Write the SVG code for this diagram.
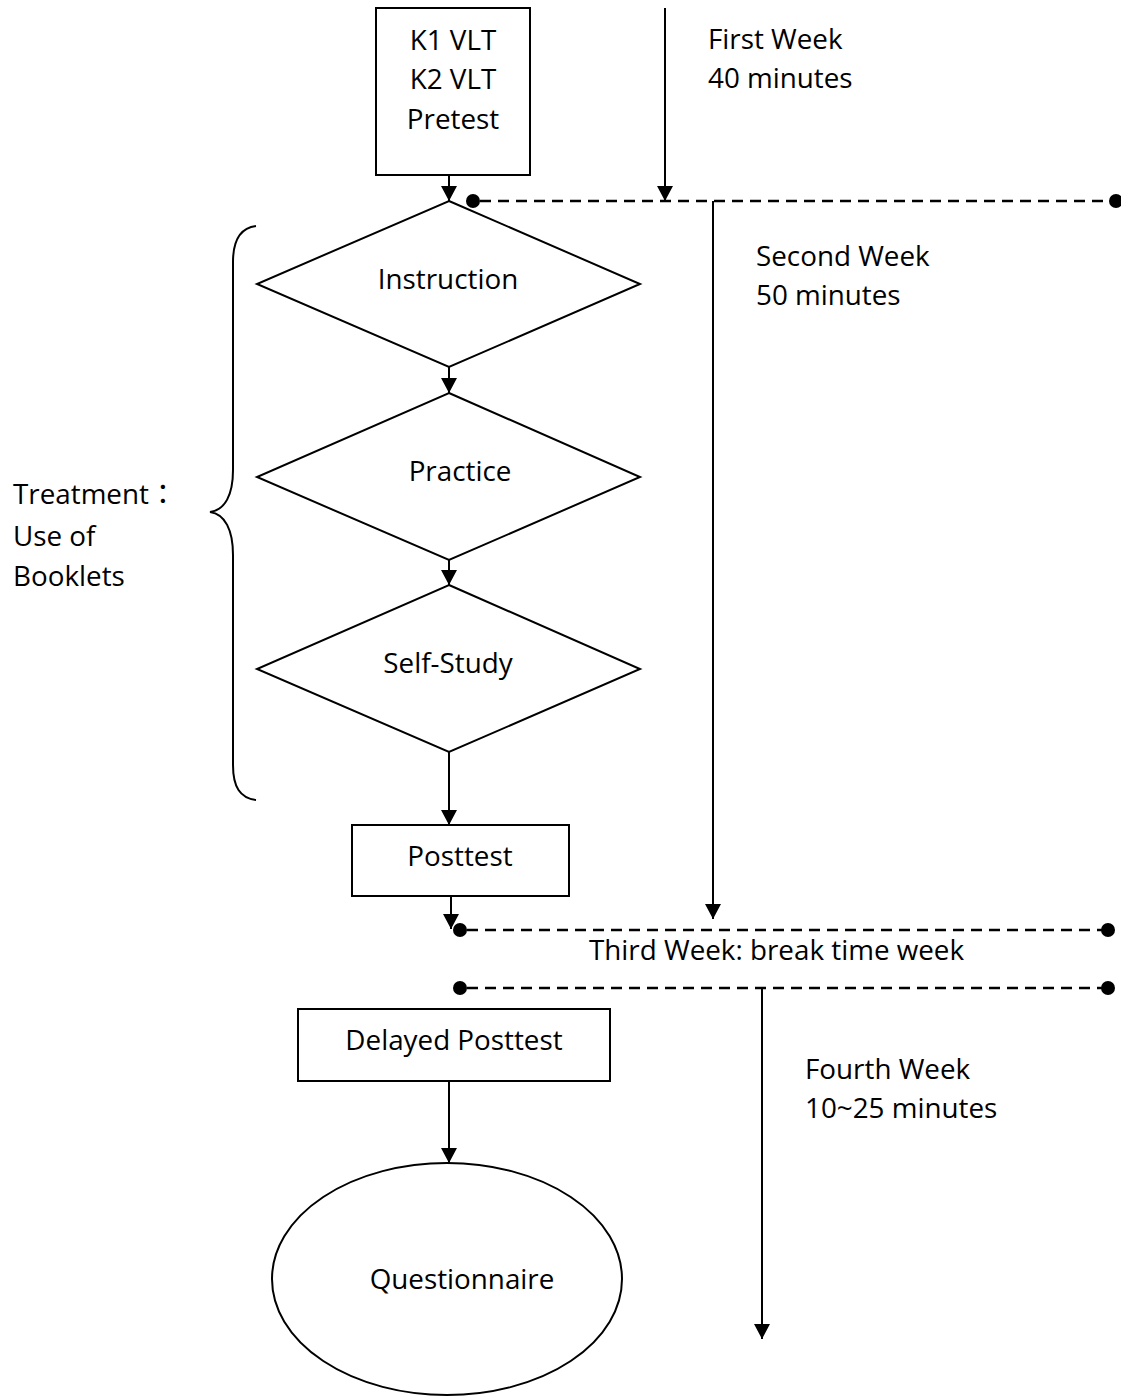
<svg xmlns="http://www.w3.org/2000/svg" width="1121" height="1396" viewBox="0 0 1121 1396">
<style>
.s{fill:none;stroke:#000;stroke-width:2}
.n{fill:#fff;stroke:#000;stroke-width:2}
.d{fill:none;stroke:#000;stroke-width:2.5;stroke-dasharray:11 7}
text{font-family:"Open Sans","Noto Sans CJK TC",sans-serif;font-size:27.8px;fill:#000}
.c{text-anchor:middle}
</style>
<defs>
<marker id="ah" markerWidth="15" markerHeight="16" refX="15" refY="8" orient="auto" markerUnits="userSpaceOnUse">
<path d="M0,0 L15,8 L0,16 Z" fill="#000"/>
</marker>
</defs>
<rect width="1121" height="1396" fill="#fff"/>
<g id="connectors">
<line class="s" x1="449" y1="175" x2="449" y2="201" marker-end="url(#ah)"/>
<line class="s" x1="449" y1="367" x2="449" y2="393" marker-end="url(#ah)"/>
<line class="s" x1="449" y1="560" x2="449" y2="585" marker-end="url(#ah)"/>
<line class="s" x1="449" y1="752" x2="449" y2="825" marker-end="url(#ah)"/>
<line class="s" x1="451" y1="896" x2="451" y2="929" marker-end="url(#ah)"/>
<line class="s" x1="449" y1="1081" x2="449" y2="1163" marker-end="url(#ah)"/>
<line class="s" x1="665" y1="8" x2="665" y2="201" marker-end="url(#ah)"/>
<line class="s" x1="713" y1="201" x2="713" y2="919" marker-end="url(#ah)"/>
<line class="s" x1="762" y1="988" x2="762" y2="1339" marker-end="url(#ah)"/>
<line class="d" x1="480" y1="201" x2="1117" y2="201"/>
<circle cx="473" cy="201" r="7"/>
<circle cx="1116" cy="201" r="7"/>
<line class="d" x1="467" y1="930" x2="1108" y2="930"/>
<circle cx="460" cy="930" r="7"/>
<circle cx="1108" cy="930" r="7"/>
<line class="d" x1="467" y1="988" x2="1108" y2="988"/>
<circle cx="460" cy="988" r="7"/>
<circle cx="1108" cy="988" r="7"/>
</g>
<g id="pretest">
<rect class="n" x="376" y="8" width="154" height="167"/>
<text class="c" x="453" y="50">K1 VLT</text>
<text class="c" x="453" y="89">K2 VLT</text>
<text class="c" x="453" y="129">Pretest</text>
</g>
<g id="instruction">
<polygon class="n" points="449,201 640,284 449,367 257,284"/>
<text class="c" x="448" y="289">Instruction</text>
</g>
<g id="practice">
<polygon class="n" points="449,393 640,477 449,560 257,477"/>
<text class="c" x="460" y="481">Practice</text>
</g>
<g id="selfstudy">
<polygon class="n" points="449,585 640,669 449,752 257,669"/>
<text class="c" x="448" y="673">Self-Study</text>
</g>
<g id="posttest">
<rect class="n" x="352" y="825" width="217" height="71"/>
<text class="c" x="460" y="866">Posttest</text>
</g>
<g id="delayed">
<rect class="n" x="298" y="1009" width="312" height="72"/>
<text class="c" x="454" y="1050">Delayed Posttest</text>
</g>
<g id="questionnaire">
<ellipse class="n" cx="447" cy="1279" rx="175" ry="116"/>
<text class="c" x="462" y="1289">Questionnaire</text>
</g>
<g id="treatment">
<path class="s" d="M256,226 C240,228 233,240 233,262 L233,470 C233,495 225,510 210,512 C225,514 233,530 233,555 L233,765 C233,787 240,798 256,800"/>
<text x="13" y="504">Treatment<tspan font-family="Noto Sans CJK TC">：</tspan></text>
<text x="13" y="546">Use of</text>
<text x="13" y="586">Booklets</text>
</g>
<g id="weeks">
<text x="708" y="49">First Week</text>
<text x="708" y="88">40 minutes</text>
<text x="756" y="266">Second Week</text>
<text x="756" y="305">50 minutes</text>
<text x="589" y="960">Third Week: break time week</text>
<text x="805" y="1079">Fourth Week</text>
<text x="805" y="1118">10~25 minutes</text>
</g>
</svg>
